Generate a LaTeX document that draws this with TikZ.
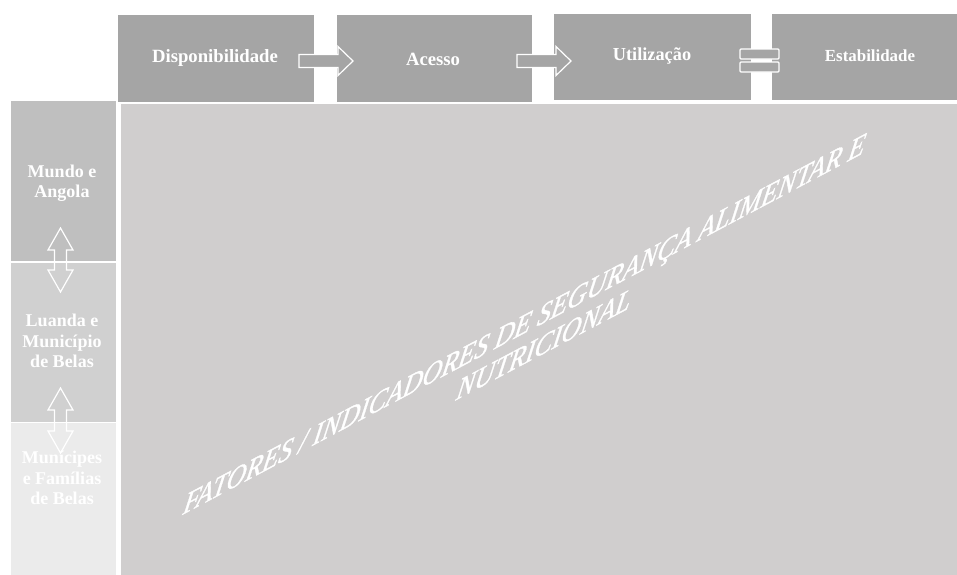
\documentclass[tikz,border=0pt]{standalone}
\usepackage{fontspec}
\setmainfont{Liberation Serif}
\newfontfamily\diagfont{Liberation Serif Italic}[FakeBold=1.2]
\definecolor{topgray}{HTML}{A5A5A5}
\definecolor{lvla}{HTML}{BFBFBF}
\definecolor{lvlb}{HTML}{D0D0D0}
\definecolor{lvlc}{HTML}{EBEBEB}
\definecolor{mainarea}{HTML}{D0CECE}
\begin{document}
\begin{tikzpicture}[x=1pt,y=1pt,
  topbox/.style={fill=topgray, draw=white, line width=0.6pt, anchor=north west, inner sep=0pt},
  sidebox/.style={draw=white, line width=1pt, anchor=north west, inner sep=0pt, minimum width=106pt},
  toplabel/.style={text=white, font=\bfseries\fontsize{18.7}{22}\selectfont, inner sep=0pt},
  sidelabel/.style={text=white, align=center, font=\bfseries\fontsize{18}{20.5}\selectfont, inner sep=0pt},
  harrow/.style={fill=topgray, draw=white, line width=1.2pt, line join=miter},
  varrow/.style={draw=white, line width=1.2pt, line join=miter},
  diag/.style={transform shape, text=white, anchor=base west, inner sep=0pt, font=\diagfont\fontsize{30.5}{33}\selectfont}]
\useasboundingbox (0,0) rectangle (957,-574);
\fill[white] (0,0) rectangle (957,-574);

% main area
\fill[mainarea] (121,-104) rectangle (960,-578);

% top boxes
\node[topbox, minimum width=197pt, minimum height=88pt] (b1) at (117,-14) {};
\node[topbox, minimum width=196pt, minimum height=88pt] (b2) at (336,-14) {};
\node[topbox, minimum width=198pt, minimum height=87pt] (b3) at (553,-13) {};
\node[topbox, minimum width=198pt, minimum height=87pt] (b4) at (771,-13) {};

\node[toplabel] (t1) at (215,-58) {Disponibilidade};
\node[toplabel] (t2) at (433,-59) {Acesso};
\node[toplabel, font=\bfseries\fontsize{18.3}{22}\selectfont] (t3) at (652,-56) {Utilização};
\node[toplabel, font=\bfseries\fontsize{16.9}{20}\selectfont] (t4) at (870,-56) {Estabilidade};

% side boxes
\node[sidebox, fill=lvla, minimum height=161pt] (s1) at (10,-100) {};
\node[sidebox, fill=lvlb, minimum height=160pt] (s2) at (10,-261.5) {};
\node[sidebox, fill=lvlc, minimum height=155pt] (s3) at (10,-421.5) {};

\node[sidelabel] (l1) at (62,-183) {Mundo e\\Angola};
\node[sidelabel] (l2) at (62,-341) {Luanda e\\Município\\de Belas};
\node[sidelabel] (l3) at (62,-478) {Munícipes\\e Famílias\\de Belas};

% horizontal block arrows
\draw[harrow] (299,-54.5) -- (338,-54.5) -- (338,-46.5) -- (353,-61) -- (338,-75.5) -- (338,-67.5) -- (299,-67.5) -- cycle;
\draw[harrow] (517,-54.5) -- (556,-54.5) -- (556,-46.5) -- (571,-61) -- (556,-75.5) -- (556,-67.5) -- (517,-67.5) -- cycle;

% equals sign
\draw[harrow, rounded corners=1pt] (740,-49) rectangle (779,-59);
\draw[harrow, rounded corners=1pt] (740,-62) rectangle (779,-72);

% vertical double arrows
\draw[varrow] (60.5,-228) -- (73,-250) -- (66.5,-250) -- (66.5,-270) -- (73,-270) -- (60.5,-292) -- (48,-270) -- (54.5,-270) -- (54.5,-250) -- (48,-250) -- cycle;
\draw[varrow] (60.5,-388) -- (73,-410) -- (66.5,-410) -- (66.5,-431) -- (73,-431) -- (60.5,-453) -- (48,-431) -- (54.5,-431) -- (54.5,-410) -- (48,-410) -- cycle;

% diagonal title
\begin{scope}[shift={(182,-515)}, cm={0.883,0.469,0.20,1.02,(0,0)}]
  \node[diag] (d1) at (0,0) {FATORES / INDICADORES DE SEGURANÇA ALIMENTAR E};
  \node[diag] (d2) at (317,-33.6) {NUTRICIONAL};
\end{scope}
\end{tikzpicture}
\end{document}
